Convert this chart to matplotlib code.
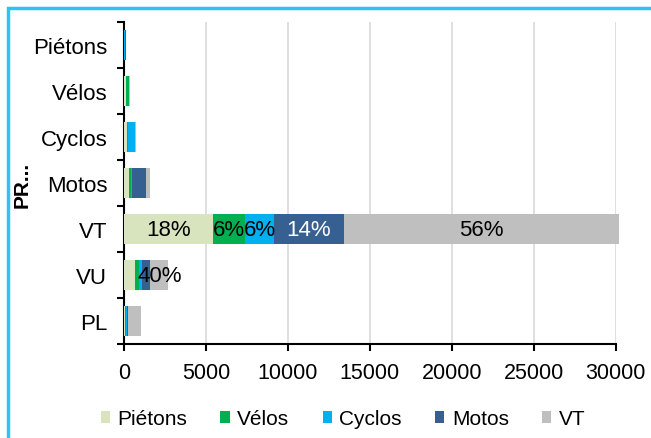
import numpy as np
import matplotlib.pyplot as plt
from matplotlib.patches import Rectangle

plt.rcParams['font.family'] = ['Liberation Sans', 'DejaVu Sans']

# données
categories = ["Piétons", "Vélos", "Cyclos", "Motos", "VT", "VU", "PL"]
series = ["Piétons", "Vélos", "Cyclos", "Motos", "VT"]
pietons = [20, 100, 180, 330, 5450, 700, 80]
velos = [5, 200, 40, 100, 1950, 240, 60]
cyclos = [10, 10, 420, 30, 1750, 170, 20]
motos = [70, 20, 30, 880, 4250, 500, 100]
vt = [20, 10, 40, 250, 16800, 1080, 800]
colors = ['#D7E4BD', '#00B050', '#00B0F0', '#376092', '#BFBFBF']

data = np.array([pietons, velos, cyclos, motos, vt], dtype=float)
totals = data.sum(axis=0)

fig = plt.figure(figsize=(6.51, 4.39), dpi=100)
ax = fig.add_axes([0.1905, 0.2141, 0.7555, 0.7335])

# cadre cyan
fig.patches.append(Rectangle((8 / 651, -0.1), 1.1, 1 - 9 / 439 + 0.1, transform=fig.transFigure,
                             fill=False, edgecolor='#2EC4F0', linewidth=2.5, zorder=0))
fig.patches.append(Rectangle((0, 1 - 1 / 439), 1, 1 / 439, transform=fig.transFigure,
                             facecolor='#8FE0F8', edgecolor='none', zorder=0))

y = np.arange(len(categories))
left = np.zeros(len(categories))
for i, name in enumerate(series):
    ax.barh(y, data[i], 0.67, left=left, color=colors[i], label=name, zorder=3, clip_on=False)
    for j in range(len(categories)):
        show = categories[j] == "VT" or (categories[j] == "VU" and name == "VT")
        if show:
            pct = data[i, j] / totals[j] * 100
            ax.text(left[j] + data[i, j] / 2, y[j], "%d%%" % round(pct), ha='center', va='center',
                    fontsize=16, color='white' if name == "Motos" else 'black', zorder=4)
    left += data[i]

ax.set_yticks(y)
ax.set_yticklabels(categories, fontsize=16)
ax.set_yticks(np.arange(-0.5, len(categories), 1), minor=True)
ax.tick_params(axis='y', which='major', length=0, pad=12)
ax.tick_params(axis='y', which='minor', length=5, width=1.5, direction='out')
ax.set_ylim(len(categories) - 0.5, -0.5)

ax.set_xlim(0, 30000)
ax.set_xticks(np.arange(0, 30001, 5000))
ax.tick_params(axis='x', labelsize=15.5, length=5, width=1.5, direction='out', pad=8)
ax.grid(axis='x', color='#D9D9D9', linewidth=1.2, zorder=0)

for s in ['top', 'right']:
    ax.spines[s].set_visible(False)
ax.spines['left'].set_linewidth(1.5)
ax.spines['bottom'].set_linewidth(1.5)

fig.text(22 / 651, 1 - 185 / 439, "PR...", rotation=90, ha='center', va='center',
         fontsize=15, fontweight='bold')

fig.legend(loc='center', bbox_to_anchor=(343 / 651, 1 - 420 / 439), ncol=5, frameon=False,
           fontsize=15, handlelength=0.45, handleheight=0.45, handletextpad=0.35, columnspacing=1.6)

plt.savefig('out.png', dpi=100)
